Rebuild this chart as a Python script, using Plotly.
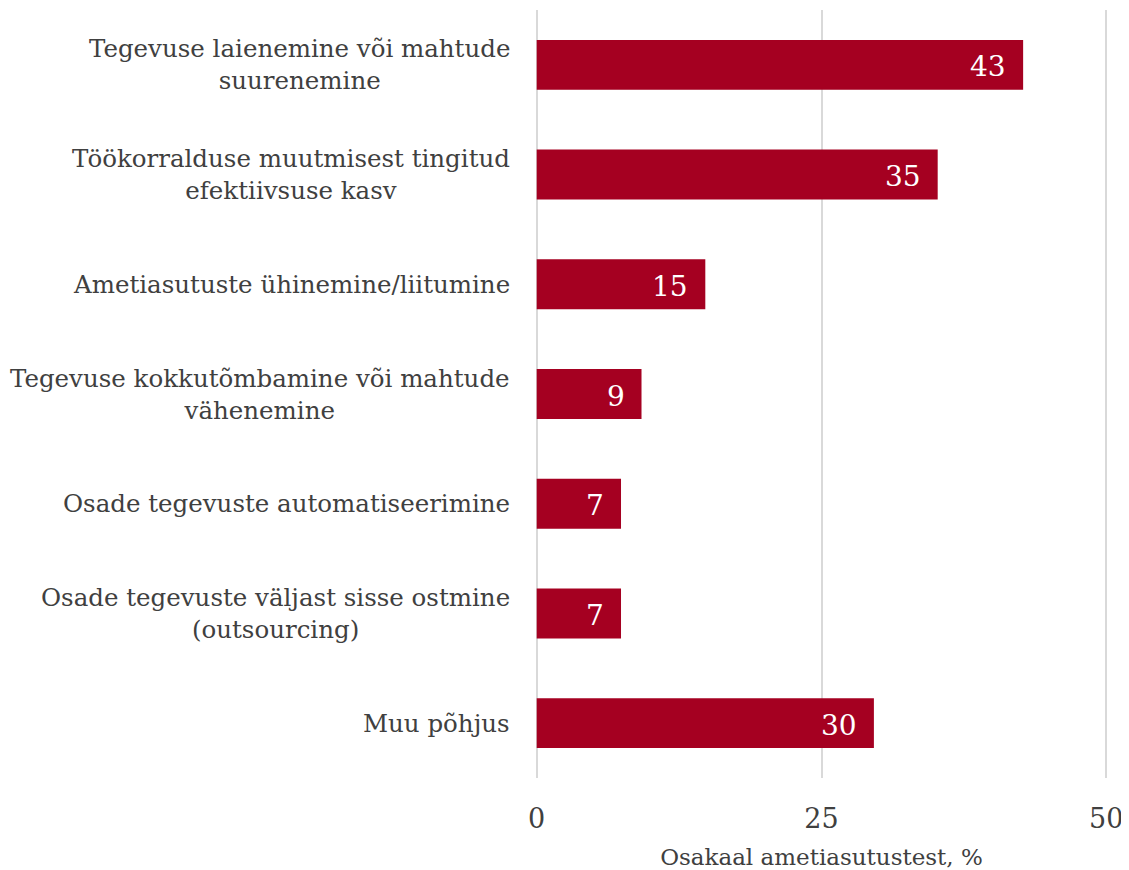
import plotly.graph_objects as go

categories = [
    "Tegevuse laienemine või mahtude<br>suurenemine",
    "Töökorralduse muutmisest tingitud<br>efektiivsuse kasv",
    "Ametiasutuste ühinemine/liitumine",
    "Tegevuse kokkutõmbamine või mahtude<br>vähenemine",
    "Osade tegevuste automatiseerimine",
    "Osade tegevuste väljast sisse ostmine<br>(outsourcing)",
    "Muu põhjus",
]
values = [42.7, 35.2, 14.8, 9.2, 7.4, 7.4, 29.6]
x_ticks = [0, 25, 50]

FONT = "DejaVu Serif"
TXT = "#404040"
RED = "#A50021"

fig = go.Figure()
fig.add_trace(go.Bar(
    y=categories, x=values, orientation="h",
    marker=dict(color=RED, line=dict(width=0)),
    hoverinfo="skip",
))

# category labels as annotations so wrapped lines are centred
for c in categories:
    fig.add_annotation(
        x=0, y=c, xref="x", yref="y", text=c, showarrow=False,
        xanchor="right", align="center", xshift=-25,
        font=dict(family=FONT, size=24.5, color=TXT),
    )

# value labels inside bar ends
for c, v in zip(categories, values):
    fig.add_annotation(
        x=v, y=c, xref="x", yref="y", text=f"{v:.0f}", showarrow=False,
        xanchor="right", xshift=-15, yshift=-2,
        font=dict(family=FONT, size=28, color="white"),
    )

fig.update_layout(
    width=1121, height=862,
    margin=dict(l=527, r=21, t=2, b=92),
    plot_bgcolor="white", paper_bgcolor="white",
    bargap=0.545, showlegend=False,
    font=dict(family=FONT, color=TXT),
)
fig.update_xaxes(
    range=[-0.15, 50.15], tickvals=x_ticks, showgrid=True, gridcolor="#D9D9D9", gridwidth=2,
    zeroline=False, showline=False, ticks="", ticklabeloverflow="allow",
    tickfont=dict(family=FONT, size=27, color=TXT), ticklabelstandoff=22,
    title=dict(text="Osakaal ametiasutustest, %", font=dict(family=FONT, size=23, color=TXT), standoff=19),
)
fig.update_yaxes(
    autorange="reversed", showticklabels=False, showgrid=False, zeroline=False,
    categoryorder="array", categoryarray=categories,
)

fig.write_html("out.html")
